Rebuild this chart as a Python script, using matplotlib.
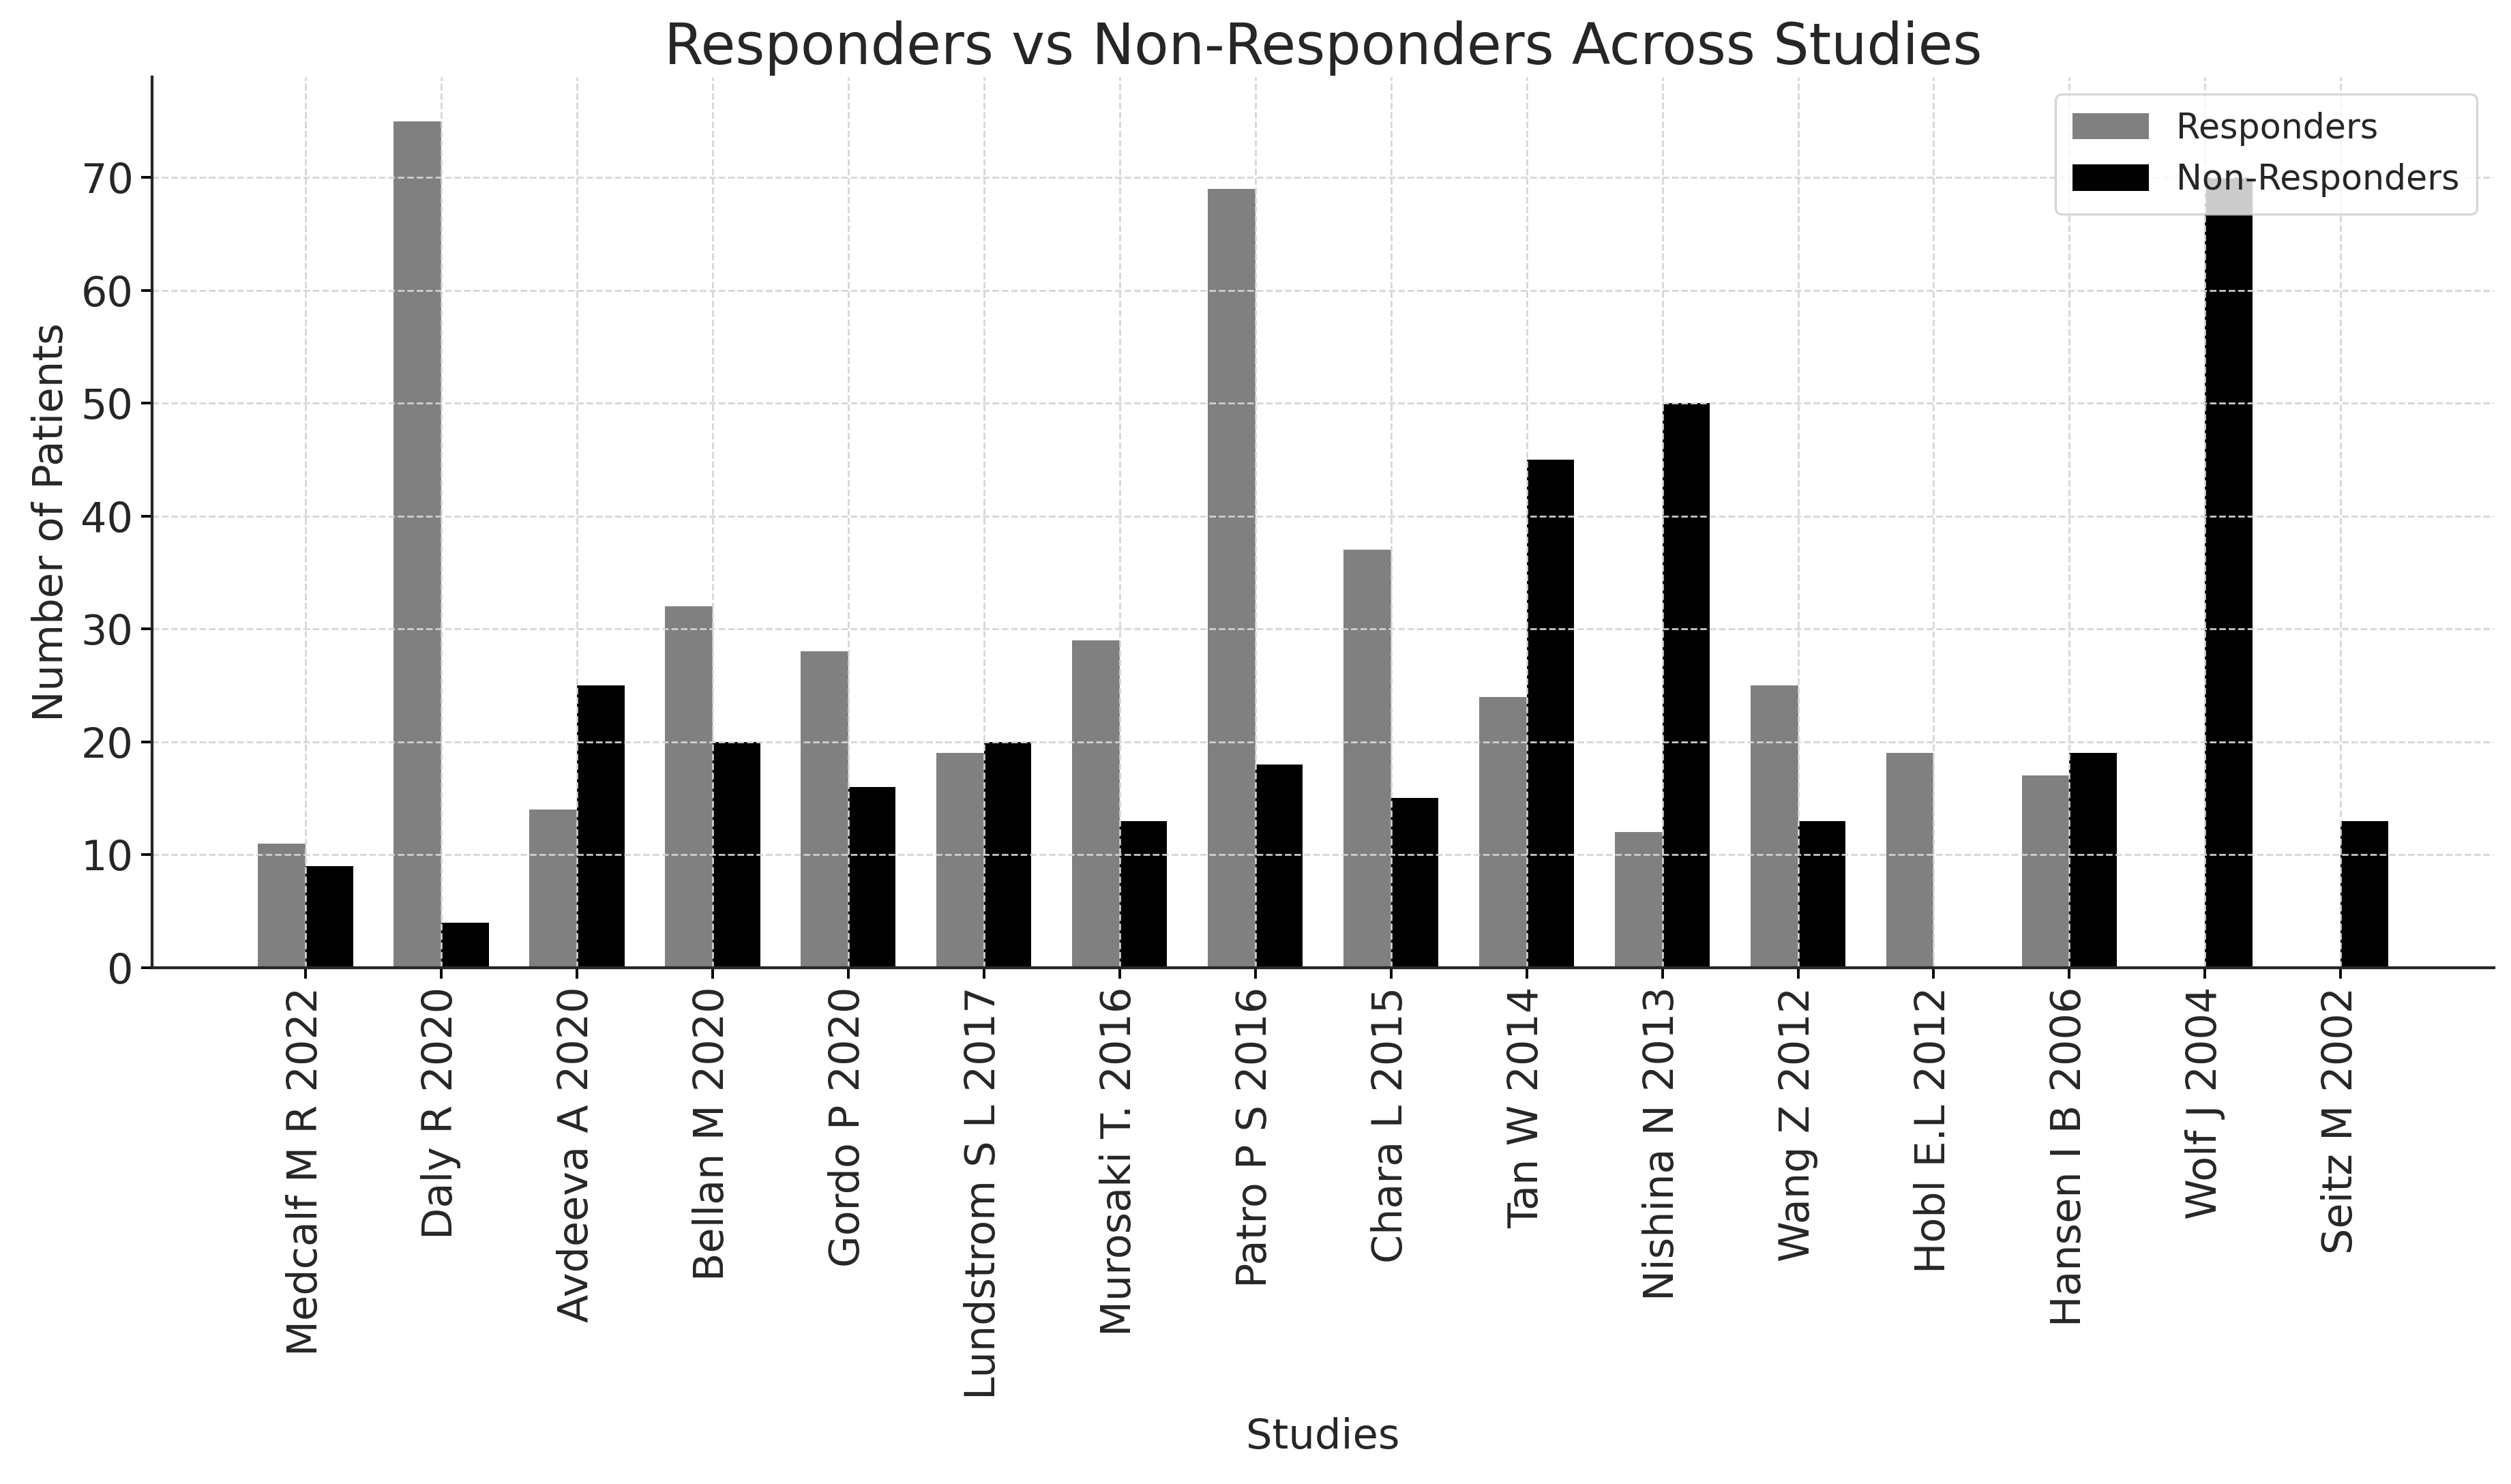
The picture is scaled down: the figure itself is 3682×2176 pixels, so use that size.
import matplotlib.pyplot as plt
import numpy as np

estudos = [
    "Medcalf M R 2022", "Daly R 2020", "Avdeeva A 2020", "Bellan M 2020",
    "Gordo P 2020", "Lundstrom S L 2017", "Murosaki T. 2016", "Patro P S 2016",
    "Chara L 2015", "Tan W 2014", "Nishina N 2013", "Wang Z 2012",
    "Hobl E.L 2012", "Hansen I B 2006", "Wolf J 2004", "Seitz M 2002",
]
responders = [11, 75, 14, 32, 28, 19, 29, 69, 37, 24, 12, 25, 19, 17, 0, 0]
non_responders = [9, 4, 25, 20, 16, 20, 13, 18, 15, 45, 50, 13, 0, 19, 70, 13]

COR_TEXTO = "#262626"

fig = plt.figure(figsize=(15.672, 9.26), dpi=235)
ax = fig.add_axes([0.0606, 0.348, 0.9324, 0.6])

x = np.arange(len(estudos))
largura = 0.35
ax.bar(x - largura / 2, responders, largura, color="#808080", label="Responders")
ax.bar(x + largura / 2, non_responders, largura, color="black", label="Non-Responders")

ax.set_xlim(-1.13, len(estudos) - 1 + 1.13)
ax.set_ylim(0, 78.9)
ax.set_xticks(x)
ax.set_xticklabels(estudos, rotation=90, fontsize=18.5, color=COR_TEXTO)
ax.tick_params(axis="y", labelsize=18.5, labelcolor=COR_TEXTO)
ax.tick_params(axis="both", length=5, width=1.2)

ax.set_title("Responders vs Non-Responders Across Studies", fontsize=25.3, color=COR_TEXTO, pad=6)
ax.set_xlabel("Studies", fontsize=18.6, color=COR_TEXTO, labelpad=8)
ax.set_ylabel("Number of Patients", fontsize=18.6, color=COR_TEXTO)

ax.grid(True, linestyle="--", color="#d4d4d4", linewidth=0.8)
for lado in ["top", "right"]:
    ax.spines[lado].set_visible(False)
for lado in ["left", "bottom"]:
    ax.spines[lado].set_linewidth(1.3)
    ax.spines[lado].set_color(COR_TEXTO)

leg = ax.legend(loc="upper right", fontsize=15.5, framealpha=0.8,
                handlelength=2.2, handleheight=0.8, borderpad=0.5)
for t in leg.get_texts():
    t.set_color(COR_TEXTO)

fig.savefig("out.png", dpi=235)
